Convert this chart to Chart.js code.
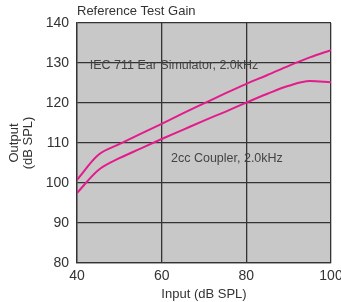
<!DOCTYPE html>
<html>
<head>
<meta charset="utf-8">
<script src="https://cdn.jsdelivr.net/npm/chart.js@4/dist/chart.umd.min.js"></script>
<style>
  html, body { margin: 0; padding: 0; background: #fff; }
  #wrap { width: 341px; height: 302px; }
</style>
</head>
<body>
<div id="wrap"><canvas id="chart" width="341" height="302"></canvas></div>
<script>
const inputLevels = [40, 45, 50, 55, 60, 65, 70, 75, 80, 85, 90, 95, 100];
const earSimulator = [100.8, 107.0, 109.7, 112.3, 114.8, 117.4, 119.9, 122.4, 124.8, 127.0, 129.3, 131.4, 133.2];
const coupler2cc = [97.5, 103.2, 106.2, 108.6, 111.0, 113.3, 115.6, 117.8, 120.1, 122.3, 124.3, 125.5, 125.2];
const seriesNames = ['IEC 711 Ear Simulator, 2.0kHz', '2cc Coupler, 2.0kHz'];
const chartTitle = 'Reference Test Gain';
const xTitle = 'Input (dB SPL)';
const yTitle = ['Output', '(dB SPL)'];

const textColor = '#333';
const lineColor = '#e31b8b';
const font = '"Liberation Sans", Arial, sans-serif';

function toPoints(ys) {
    return inputLevels.map((x, i) => ({ x: x, y: ys[i] }));
}

// grey plot background + title + inline labels
const decor = {
    id: 'decor',
    beforeDraw(chart) {
        const a = chart.chartArea;
        const ctx = chart.ctx;
        ctx.save();
        ctx.fillStyle = '#c8c8c8';
        ctx.fillRect(a.left, a.top, a.right - a.left, a.bottom - a.top);
        ctx.restore();
    },
    afterDraw(chart) {
        const a = chart.chartArea;
        const ctx = chart.ctx;
        const xs = chart.scales.x, ys = chart.scales.y;
        ctx.save();
        ctx.fillStyle = textColor;
        ctx.textBaseline = 'middle';
        ctx.textAlign = 'left';
        ctx.font = '13px ' + font;
        ctx.fillText(chartTitle, a.left, 11);
        ctx.fillStyle = '#444';
        ctx.font = '12.5px ' + font;
        ctx.fillText(seriesNames[0], xs.getPixelForValue(43), ys.getPixelForValue(129.3));
        ctx.fillText(seriesNames[1], xs.getPixelForValue(62.2), ys.getPixelForValue(106.2));
        ctx.restore();
    }
};

const ctx = document.getElementById('chart').getContext('2d');
new Chart(ctx, {
    type: 'line',
    data: {
        datasets: [{
                label: seriesNames[0],
                data: toPoints(earSimulator),
                borderColor: lineColor,
                borderWidth: 2,
                pointRadius: 0,
                fill: false,
                cubicInterpolationMode: 'monotone'
            },
            {
                label: seriesNames[1],
                data: toPoints(coupler2cc),
                borderColor: lineColor,
                borderWidth: 2,
                pointRadius: 0,
                fill: false,
                cubicInterpolationMode: 'monotone'
            }
        ]
    },
    options: {
        responsive: false,
        animation: false,
        layout: { padding: { top: 23, right: 10, left: 0, bottom: 0 } },
        plugins: {
            legend: { display: false },
            tooltip: { enabled: false },
            title: { display: false }
        },
        scales: {
            x: {
                type: 'linear',
                min: 40,
                max: 100,
                ticks: { stepSize: 20, color: textColor, font: { family: font, size: 14 }, padding: 5 },
                grid: { color: '#333', lineWidth: 1.3, drawTicks: false },
                border: { color: '#333', width: 1.3 },
                title: { display: true, text: xTitle, color: textColor, font: { family: font, size: 13 }, padding: { top: 0, bottom: 0 } },
                afterFit(scale) {
                    scale.height = 39;
                    scale.paddingLeft = 0;
                    scale.paddingRight = 0;
                }
            },
            y: {
                min: 80,
                max: 140,
                ticks: { stepSize: 10, color: textColor, font: { family: font, size: 14 }, padding: 8 },
                grid: { color: '#333', lineWidth: 1.3, drawTicks: false },
                border: { color: '#333', width: 1.3 },
                title: { display: true, text: yTitle, color: textColor, font: { family: font, size: 13, lineHeight: 1.05 }, padding: { top: 8, bottom: 0 } },
                afterFit(scale) { scale.width = 77; }
            }
        }
    },
    plugins: [decor]
});
</script>
</body>
</html>
